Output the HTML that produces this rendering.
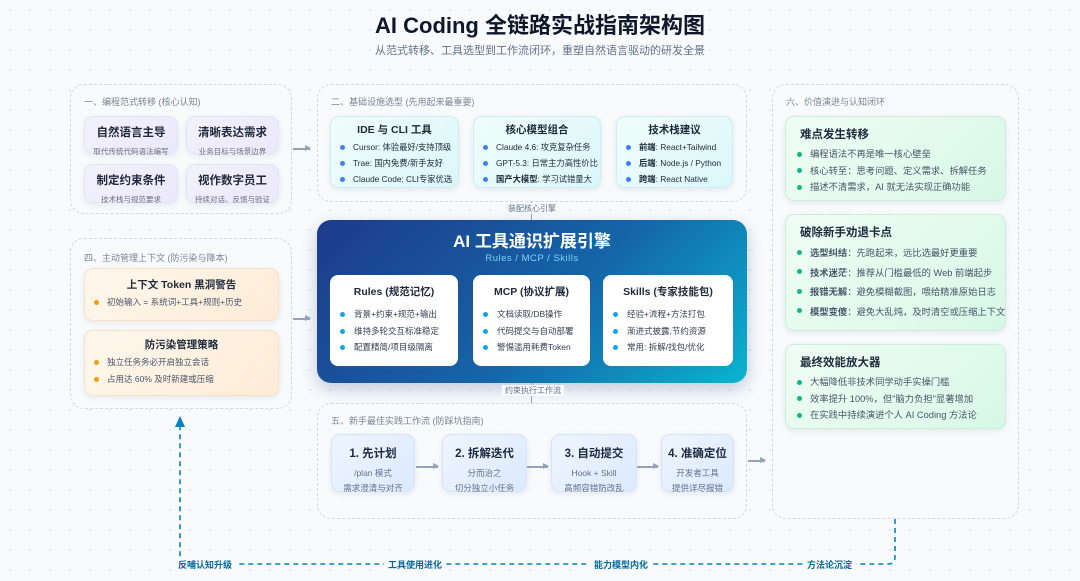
<!DOCTYPE html>
<html><head><meta charset="utf-8"><style>
*{margin:0;padding:0;box-sizing:border-box}
body{width:1080px;height:581px;overflow:hidden;position:relative;font-family:"Liberation Sans","Noto Sans CJK SC",sans-serif;color:#1e293b;background:#f8fafc;background-image:radial-gradient(#dfe5ee 1px,transparent 1.2px);background-size:20px 20px}
.a{position:absolute}
.panel{position:absolute;border:1.5px dashed #d3d9e3;border-radius:14px;background:rgba(248,250,252,.6)}
.pl{position:absolute;font-size:9px;color:#7b8599}
.card{position:absolute;border-radius:9px;box-shadow:0 2px 6px rgba(100,116,139,.12)}
.c1{background:linear-gradient(135deg,#f3f1fc,#ebe8fb);border:1px solid #e6e2f7;text-align:center}
.c1 b{display:block;font-size:11.5px;margin-top:7px;color:#1e293b}
.c1 span{display:block;font-size:7.5px;color:#6b7280;margin-top:6px}
.c2{background:linear-gradient(135deg,#f0fdfa,#dbf7fb);border:1px solid #cdeef2;overflow:hidden}
.ct{text-align:center;font-weight:bold;font-size:10.5px;line-height:14px;margin-top:8px;margin-bottom:4px}
ul{list-style:none}
li{font-size:8.5px;line-height:17px;padding-left:12px;position:relative;white-space:nowrap}
li:before{content:"";position:absolute;left:2px;top:6px;width:5px;height:5px;border-radius:50%;background:#3b82f6}
.c2 .ct{margin-top:6px;margin-bottom:2px}
.c2 li{padding-left:22px;line-height:16px;font-size:8.3px}.c2 li:before{left:9px;top:5.5px}
.ec{background:#fff;border-radius:8px}
.ec li{padding-left:24px;line-height:16.5px;color:#334155}.ec li:before{left:10px;background:#0ea5e9}
.c4{background:linear-gradient(135deg,#fff7ed,#fdecd6);border:1px solid #f8e1c4}
.c4 li{padding-left:22px;color:#475569}.c4 li:before{left:9px;background:#f59e0b}
.c5{background:linear-gradient(135deg,#eef5ff,#dce9fd);border:1px solid #d6e4fa;text-align:center}
.c5 b{display:block;font-size:11.5px;margin-top:10px}
.c5 span{display:block;font-size:8.5px;color:#64748b;line-height:15px}
.c6{background:linear-gradient(135deg,#f0fdf4,#d7f8e6);border:1px solid #cdeedd}
.c6 .ct{text-align:left;padding-left:14px;font-size:11.5px;margin-top:11px;margin-bottom:4px}
.c6 li{padding-left:24px;color:#475569;line-height:16.5px;font-size:9.3px}.c6 li:before{left:11px;background:#10b981;top:5.5px}
.arr{position:absolute;height:1.5px;background:#94a3b8}
.arr:after{content:"";position:absolute;right:-1px;top:-3px;border-left:6px solid #94a3b8;border-top:3.5px solid transparent;border-bottom:3.5px solid transparent}
.tag{position:absolute;font-size:8px;color:#64748b;background:#f8fafc;padding:0 3px}
.bl{position:absolute;font-size:9px;font-weight:bold;color:#0369a1;background:#f8fafc;padding:0 4px}
</style></head><body>
<div class="a" style="left:0;width:1080px;top:8px;text-align:center;font-size:22px;font-weight:bold;color:#0f172a">AI Coding 全链路实战指南架构图</div>
<div class="a" style="left:0;width:1080px;top:42px;text-align:center;font-size:11px;color:#64748b">从范式转移、工具选型到工作流闭环，重塑自然语言驱动的研发全景</div>

<div class="panel" style="left:70px;top:84px;width:222px;height:130px"></div>
<div class="pl" style="left:84px;top:95px">一、编程范式转移 (核心认知)</div>
<div class="card c1" style="left:84px;top:116px;width:94px;height:38px"><b>自然语言主导</b><span>取代传统代码语法编写</span></div>
<div class="card c1" style="left:186px;top:116px;width:93px;height:38px"><b>清晰表达需求</b><span>业务目标与场景边界</span></div>
<div class="card c1" style="left:84px;top:164px;width:94px;height:39px"><b>制定约束条件</b><span>技术栈与规范要求</span></div>
<div class="card c1" style="left:186px;top:164px;width:93px;height:39px"><b>视作数字员工</b><span>持续对话、反馈与验证</span></div>
<div class="arr" style="left:293px;top:148px;width:17px"></div>

<div class="panel" style="left:317px;top:84px;width:430px;height:118px"></div>
<div class="pl" style="left:331px;top:95px">二、基础设施选型 (先用起来最重要)</div>
<div class="card c2" style="left:330px;top:116px;width:129px;height:72px"><div class="ct">IDE 与 CLI 工具</div><ul><li>Cursor: 体验最好/支持顶级</li><li>Trae: 国内免费/新手友好</li><li>Claude Code: CLI专家优选</li></ul></div>
<div class="card c2" style="left:473px;top:116px;width:128px;height:72px"><div class="ct">核心模型组合</div><ul><li>Claude 4.6: 攻克复杂任务</li><li>GPT-5.3: 日常主力高性价比</li><li><b>国产大模型</b>: 学习试错量大</li></ul></div>
<div class="card c2" style="left:616px;top:116px;width:117px;height:72px"><div class="ct">技术栈建议</div><ul><li><b>前端</b>: React+Tailwind</li><li><b>后端</b>: Node.js / Python</li><li><b>跨端</b>: React Native</li></ul></div>
<div class="a" style="left:531px;top:202px;width:1px;height:18px;background:#94a3b8"></div>
<div class="tag" style="left:505px;top:203px">装配核心引擎</div>

<div class="a" style="left:317px;top:220px;width:430px;height:163px;border-radius:14px;background:linear-gradient(135deg,#1e3a8a 0%,#1565a8 55%,#0ab4d0 100%);box-shadow:0 6px 16px rgba(30,58,138,.25)"></div>
<div class="a" style="left:317px;width:430px;top:227px;text-align:center;font-size:17px;font-weight:bold;color:#fff">AI 工具通识扩展引擎</div>
<div class="a" style="left:317px;width:430px;top:253px;text-align:center;font-size:9.5px;color:#7dd3fc;letter-spacing:.5px">Rules / MCP / Skills</div>
<div class="card ec" style="left:330px;top:275px;width:128px;height:91px"><div class="ct" style="margin-top:10px;margin-bottom:7px">Rules (规范记忆)</div><ul><li>背景+约束+规范+输出</li><li>维持多轮交互标准稳定</li><li>配置精简/项目级隔离</li></ul></div>
<div class="card ec" style="left:473px;top:275px;width:117px;height:91px"><div class="ct" style="margin-top:10px;margin-bottom:7px">MCP (协议扩展)</div><ul><li>文档读取/DB操作</li><li>代码提交与自动部署</li><li>警惕滥用耗费Token</li></ul></div>
<div class="card ec" style="left:603px;top:275px;width:130px;height:91px"><div class="ct" style="margin-top:10px;margin-bottom:7px">Skills (专家技能包)</div><ul><li>经验+流程+方法打包</li><li>渐进式披露,节约资源</li><li>常用: 拆解/找包/优化</li></ul></div>
<div class="a" style="left:531px;top:383px;width:1px;height:20px;background:#94a3b8"></div>
<div class="tag" style="left:502px;top:385px">约束执行工作流</div>

<div class="panel" style="left:70px;top:238px;width:222px;height:171px"></div>
<div class="pl" style="left:84px;top:251px">四、主动管理上下文 (防污染与降本)</div>
<div class="card c4" style="left:84px;top:268px;width:195px;height:53px"><div class="ct" style="margin-top:9px;margin-bottom:2px">上下文 Token 黑洞警告</div><ul><li>初始输入 = 系统词+工具+规则+历史</li></ul></div>
<div class="card c4" style="left:84px;top:330px;width:195px;height:66px"><div class="ct" style="margin-top:7px;margin-bottom:2px">防污染管理策略</div><ul><li>独立任务务必开启独立会话</li><li>占用达 60% 及时新建或压缩</li></ul></div>
<div class="arr" style="left:293px;top:318px;width:17px"></div>

<div class="panel" style="left:317px;top:403px;width:430px;height:116px"></div>
<div class="pl" style="left:331px;top:414px">五、新手最佳实践工作流 (防踩坑指南)</div>
<div class="card c5" style="left:331px;top:434px;width:84px;height:58px"><b>1. 先计划</b><span style="margin-top:5px">/plan 模式</span><span>需求澄清与对齐</span></div>
<div class="card c5" style="left:442px;top:434px;width:85px;height:58px"><b>2. 拆解迭代</b><span style="margin-top:5px">分而治之</span><span>切分独立小任务</span></div>
<div class="card c5" style="left:551px;top:434px;width:86px;height:58px"><b>3. 自动提交</b><span style="margin-top:5px">Hook + Skill</span><span>高频容错防改乱</span></div>
<div class="card c5" style="left:661px;top:434px;width:73px;height:58px"><b>4. 准确定位</b><span style="margin-top:5px">开发者工具</span><span>提供详尽报错</span></div>
<div class="arr" style="left:416px;top:466px;width:22px"></div>
<div class="arr" style="left:527px;top:466px;width:21px"></div>
<div class="arr" style="left:637px;top:466px;width:21px"></div>
<div class="arr" style="left:748px;top:460px;width:17px"></div>

<div class="panel" style="left:772px;top:84px;width:247px;height:435px"></div>
<div class="pl" style="left:786px;top:95px">六、价值演进与认知闭环</div>
<div class="card c6" style="left:785px;top:116px;width:221px;height:85px"><div class="ct">难点发生转移</div><ul><li>编程语法不再是唯一核心壁垒</li><li>核心转至：思考问题、定义需求、拆解任务</li><li>描述不清需求，AI 就无法实现正确功能</li></ul></div>
<div class="card c6" style="left:785px;top:214px;width:221px;height:117px"><div class="ct">破除新手劝退卡点</div><ul style="margin-top:2px"><li style="line-height:19.5px"><b>选型纠结</b>：先跑起来，远比选最好更重要</li><li style="line-height:19.5px"><b>技术迷茫</b>：推荐从门槛最低的 Web 前端起步</li><li style="line-height:19.5px"><b>报错无解</b>：避免模糊截图，喂给精准原始日志</li><li style="line-height:19.5px"><b>模型变傻</b>：避免大乱炖，及时清空或压缩上下文</li></ul></div>
<div class="card c6" style="left:785px;top:344px;width:221px;height:85px"><div class="ct">最终效能放大器</div><ul><li>大幅降低非技术同学动手实操门槛</li><li>效率提升 100%，但"脑力负担"显著增加</li><li>在实践中持续演进个人 AI Coding 方法论</li></ul></div>

<svg class="a" style="left:0;top:0" width="1080" height="581">
<path d="M895 519 V557 Q895 564 888 564 H180 V424" fill="none" stroke="#0284c7" stroke-width="1.6" stroke-dasharray="5 4"/>
<path d="M180 416 L175 427 L185 427 Z" fill="#0284c7"/>
</svg>
<div class="bl" style="left:174px;top:558px">反哺认知升级</div>
<div class="bl" style="left:384px;top:558px">工具使用进化</div>
<div class="bl" style="left:590px;top:558px">能力模型内化</div>
<div class="bl" style="left:803px;top:558px">方法论沉淀</div>
</body></html>
